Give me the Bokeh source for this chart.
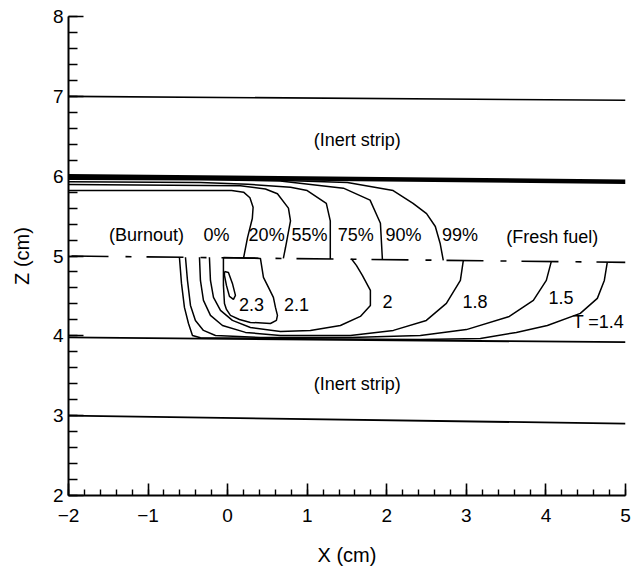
from bokeh.plotting import figure
from bokeh.models import SingleIntervalTicker, ColumnDataSource, LabelSet, Range1d
from bokeh.core.properties import value
from bokeh.embed import file_html
from bokeh.resources import INLINE

FONT = "Liberation Sans"

# ---- horizontal strip boundaries (x ends, y at left/right end) ----
strip_x = [-2.0, 5.0]
inert_top_y = [7.0, 6.95]
strip_top_y = [6.0, 5.93]
interface_y = [5.0, 4.92]
strip_bottom_y = [3.98, 3.92]
inert_bottom_y = [3.0, 2.90]

# ---- burnout-fraction contours (above the interface) ----
pctA_x = [-2.0, 0.05, 0.2, 0.28, 0.32, 0.31, 0.25, 0.2]
pctA_y = [5.82, 5.82, 5.8, 5.73, 5.61, 5.47, 5.23, 4.975]
pctB_x = [-2.0, 0.16, 0.475, 0.626, 0.764, 0.79, 0.726, 0.70]
pctB_y = [5.895, 5.88, 5.84, 5.78, 5.60, 5.44, 5.10, 4.969]
pctC_x = [-2.0, -0.34, 0.25, 0.79, 1.0, 1.24, 1.29, 1.29]
pctC_y = [5.93, 5.92, 5.90, 5.86, 5.82, 5.66, 5.44, 4.962]
pctD_x = [-2.0, -0.34, 0.66, 1.455, 1.79, 1.92, 1.945]
pctD_y = [5.96, 5.955, 5.94, 5.85, 5.70, 5.41, 4.955]
pctE_x = [-2.0, 0.29, 1.505, 2.08, 2.33, 2.50, 2.61, 2.67, 2.71]
pctE_y = [5.97, 5.96, 5.92, 5.82, 5.66, 5.53, 5.37, 5.16, 4.946]

# ---- temperature contours (below the interface) ----
t14_x = [-0.606, -0.58, -0.543, -0.492, -0.442, -0.342, 0.915, 2.422, 3.176, 3.628, 4.018, 4.432, 4.646, 4.734, 4.771]
t14_y = [4.984, 4.657, 4.356, 4.155, 4.005, 3.975, 3.965, 3.955, 3.967, 4.043, 4.130, 4.281, 4.469, 4.694, 4.92]
t15_x = [-0.53, -0.505, -0.467, -0.405, -0.304, -0.153, 0.412, 1.543, 2.422, 3.0, 3.54, 3.842, 4.005, 4.068]
t15_y = [4.984, 4.694, 4.381, 4.193, 4.068, 4.005, 3.98, 3.98, 4.005, 4.078, 4.243, 4.444, 4.694, 4.932]
t18_x = [-0.354, -0.342, -0.304, -0.216, -0.065, 0.224, 0.663, 1.543, 2.083, 2.497, 2.749, 2.925, 2.962]
t18_y = [4.984, 4.694, 4.444, 4.256, 4.130, 4.043, 4.005, 4.005, 4.068, 4.193, 4.406, 4.694, 4.945]
t20_x = [-0.229, -0.216, -0.178, -0.09, 0.06, 0.286, 0.663, 1.04, 1.417, 1.668, 1.794, 1.794, 1.693, 1.618, 1.555]
t20_y = [4.984, 4.694, 4.481, 4.318, 4.193, 4.105, 4.055, 4.068, 4.130, 4.243, 4.381, 4.569, 4.757, 4.882, 4.965]
t21_x = [-0.053, -0.053, -0.04, -0.015, 0.035, 0.148, 0.286, 0.538, 0.613, 0.626, 0.601, 0.575, 0.513, 0.45, 0.412, -0.053]
t21_y = [4.982, 4.632, 4.406, 4.331, 4.256, 4.205, 4.168, 4.155, 4.193, 4.256, 4.356, 4.481, 4.607, 4.732, 4.97, 4.982]
t23_x = [-0.04, 0.01, 0.06, 0.098, 0.073, 0.023, -0.015, -0.04, -0.04]
t23_y = [4.807, 4.794, 4.657, 4.506, 4.456, 4.494, 4.632, 4.757, 4.807]

# ---- annotations ----
label_text = ["(Inert strip)", "(Inert strip)", "(Burnout)", "0%", "20%", "55%", "75%",
              "90%", "99%", "(Fresh fuel)", "2.3", "2.1", "2", "1.8", "1.5", "T =1.4"]
label_x = [1.63, 1.63, -1.02, -0.14, 0.49, 1.03, 1.61, 2.21, 2.92, 4.08,
           0.30, 0.865, 2.01, 3.11, 4.19, 4.66]
label_y = [6.45, 3.40, 5.26, 5.26, 5.26, 5.26, 5.26, 5.26, 5.26, 5.24,
           4.39, 4.39, 4.43, 4.43, 4.48, 4.17]

x_title = "X (cm)"
y_title = "Z (cm)"

p = figure(width=632, height=568, output_backend="svg", toolbar_location=None,
           x_range=Range1d(-2, 5), y_range=Range1d(2, 8),
           min_border_left=68, min_border_right=7, min_border_top=16, min_border_bottom=73)
p.outline_line_color = None
p.grid.visible = False
p.background_fill_color = "white"

LW = 1.5
for yy, w in [(inert_top_y, 1.6), (strip_top_y, 4.5), (strip_bottom_y, 1.8), (inert_bottom_y, 1.8)]:
    p.line(strip_x, yy, line_color="black", line_width=w)
p.line(strip_x, interface_y, line_color="black", line_width=1.6,
       line_dash="37 17 6 15", line_dash_offset=72)

for xs, ys in [(pctA_x, pctA_y), (pctB_x, pctB_y), (pctC_x, pctC_y), (pctD_x, pctD_y), (pctE_x, pctE_y),
               (t14_x, t14_y), (t15_x, t15_y), (t18_x, t18_y), (t20_x, t20_y), (t21_x, t21_y), (t23_x, t23_y)]:
    p.line(xs, ys, line_color="black", line_width=LW)

src = ColumnDataSource(dict(x=label_x, y=label_y, text=label_text))
labels = LabelSet(x="x", y="y", text="text", source=src, text_align="center", text_baseline="middle",
                  text_font=value(FONT), text_font_size=value("18px"), text_color="black")
p.add_layout(labels)

for ax in (p.xaxis[0], p.yaxis[0]):
    ax.ticker = SingleIntervalTicker(interval=1, num_minor_ticks=5)
    ax.axis_line_width = 2
    ax.axis_line_color = "black"
    ax.major_tick_line_width = 1.6
    ax.minor_tick_line_width = 1.4
    ax.major_tick_out = 0
    ax.minor_tick_out = 0
    ax.major_label_text_font = FONT
    ax.major_label_text_font_size = "19px"
    ax.major_label_text_color = "black"
    ax.axis_label_text_font = FONT
    ax.axis_label_text_font_size = "20px"
    ax.axis_label_text_font_style = "normal"
    ax.axis_label_text_color = "black"

p.xaxis.axis_label = x_title
p.yaxis.axis_label = y_title
p.xaxis.major_tick_in = 12
p.xaxis.minor_tick_in = 6
p.yaxis.major_tick_in = 15
p.yaxis.minor_tick_in = 9
p.xaxis.major_label_standoff = 13
p.xaxis.axis_label_standoff = 19
p.yaxis.major_label_standoff = 5
p.yaxis.axis_label_standoff = 17

open("out.html", "w").write(file_html(p, INLINE))
